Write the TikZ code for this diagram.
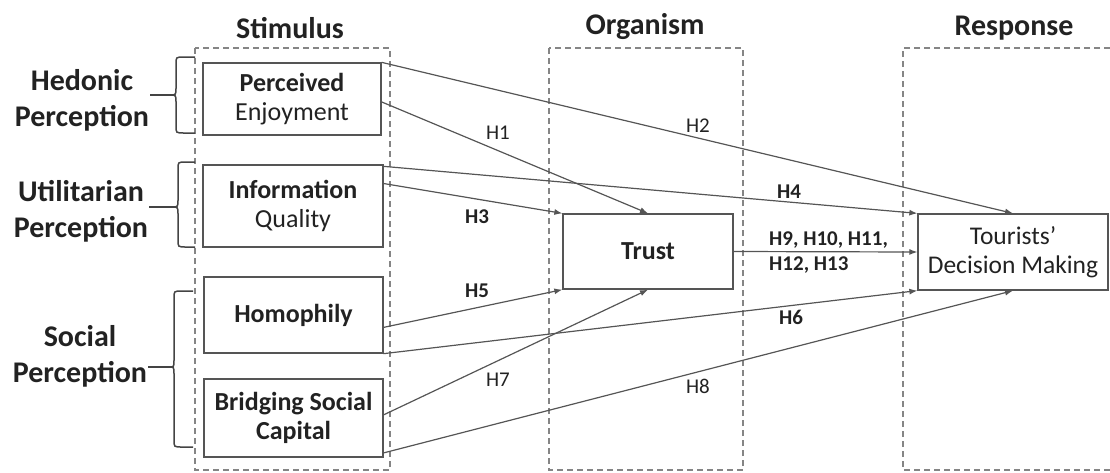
\documentclass[tikz,border=0pt]{standalone}
\usepackage{fontspec}
\setmainfont{Carlito}
\usetikzlibrary{arrows.meta,calc}
\definecolor{lin}{HTML}{555555}
\definecolor{dsh}{HTML}{858585}
\definecolor{txt}{HTML}{222222}
\definecolor{brcc}{HTML}{444444}
\begin{document}
\begin{tikzpicture}[x=1pt,y=-1pt,
  box/.style={draw=lin, line width=1.3pt, inner sep=0pt, align=center, text=txt, font=\fontsize{26}{29}\selectfont},
  grp/.style={draw=dsh, line width=1.4pt, dash pattern=on 6pt off 4pt},
  conn/.style={draw=lin, line width=1.2pt, -{Latex[length=8pt,width=6pt]}},
  hlab/.style={text=txt, font=\fontsize{21}{25}\selectfont, inner sep=1pt},
  hlabb/.style={text=txt, font=\bfseries\fontsize{21}{25}\selectfont, inner sep=1pt},
  grptitle/.style={text=txt, font=\bfseries\fontsize{30}{34}\selectfont},
  side/.style={text=txt, font=\bfseries\fontsize{30}{36}\selectfont, align=center, inner sep=1pt},
  brc/.style={draw=brcc, line width=1.5pt}
]
\useasboundingbox (0,0) rectangle (1110,472);

% group frames
\draw[grp] (195,48) rectangle (390,470);
\draw[grp] (549,48) rectangle (743,470);
\draw[grp] (1110,48) -- (903,48) -- (903,470) -- (1110,470);

% titles
\node[grptitle] (tS) at (290,28) {Stimulus};
\node[grptitle] (tO) at (645,27) {Organism};
\node[grptitle] (tR) at (1014,28) {Response};

% construct boxes
\node[box, minimum width=178pt, minimum height=72pt] (PE) at (292,99) {\textbf{Perceived}\\Enjoyment};
\node[box, minimum width=180pt, minimum height=82pt] (IQ) at (293,206) {\textbf{Information}\\Quality};
\node[box, minimum width=179pt, minimum height=76pt] (Hom) at (293.5,315) {\textbf{Homophily}};
\node[box, minimum width=179pt, minimum height=78pt] (BSC) at (293.5,418) {\textbf{Bridging Social}\\\textbf{Capital}};
\node[box, minimum width=170pt, minimum height=75pt] (Trust) at (648,251.5) {\textbf{Trust}};
\node[box, minimum width=190pt, minimum height=76pt, font=\fontsize{25.5}{29}\selectfont] (TDM) at (1013,252) {Tourists’\\Decision Making};

% side labels
\node[side] (Lh) at (82,100) {Hedonic\\Perception};
\node[side] (Lu) at (81,211) {Utilitarian\\Perception};
\node[side] (Ls) at (80,356) {Social\\Perception};

% braces
\coordinate (hb) at (170,95);
\coordinate (ub) at (172,207);
\coordinate (sb) at (169,367);
\draw[brc] (195,57) -- (184,57) .. controls (176,57) .. (176,64) -- (176,88) .. controls (176,95) .. (hb)
  .. controls (176,95) .. (176,102) -- (176,126) .. controls (176,133) .. (184,133) -- (195,133);
\draw[brc] (195,162) -- (186,162) .. controls (178,162) .. (178,169) -- (178,200) .. controls (178,207) .. (ub)
  .. controls (178,207) .. (178,214) -- (178,240) .. controls (178,247) .. (186,247) -- (195,247);
\draw[brc] (193,291) -- (182,291) .. controls (174,291) .. (174,298) -- (174,360) .. controls (174,367) .. (sb)
  .. controls (174,367) .. (174,374) -- (174,440) .. controls (174,447) .. (182,447) -- (193,447);
\draw[brc] (hb) -- (Lh.east |- hb);
\draw[brc] (ub) -- (Lu.east |- ub);
\draw[brc] (sb) -- (Ls.east |- sb);

% connectors
\draw[conn] (PE.north east) -- (TDM.north);
\draw[conn] ($(PE.north east)!0.54!(PE.south east)$) -- (Trust.north);
\draw[conn] ($(IQ.north east)+(0,2)$) -- (TDM.north west);
\draw[conn] ($(IQ.north east)!0.23!(IQ.south east)$) -- (Trust.north west);
\draw[conn] ($(Hom.north east)!0.66!(Hom.south east)$) -- (Trust.south west);
\draw[conn] (Hom.south east) -- (TDM.south west);
\draw[conn] ($(BSC.north east)!0.46!(BSC.south east)$) -- (Trust.south);
\draw[conn] ($(BSC.north east)!0.94!(BSC.south east)$) -- (TDM.south);
\draw[conn] (Trust.east) -- (TDM.west);

% hypothesis labels
\node[hlab] (h1) at (498,133) {H1};
\node[hlab] (h2) at (698,126) {H2};
\node[hlabb] (h3) at (477,217) {H3};
\node[hlabb] (h4) at (789,192) {H4};
\node[hlabb] (h5) at (477,291) {H5};
\node[hlabb] (h6) at (791,317) {H6};
\node[hlab] (h7) at (498,380) {H7};
\node[hlab] (h8) at (698,386) {H8};
\node[hlabb, anchor=west, align=left, font=\bfseries\fontsize{21}{25}\selectfont] (h9) at (768,252.5) {H9, H10, H11,\\H12, H13};
\end{tikzpicture}
\end{document}
